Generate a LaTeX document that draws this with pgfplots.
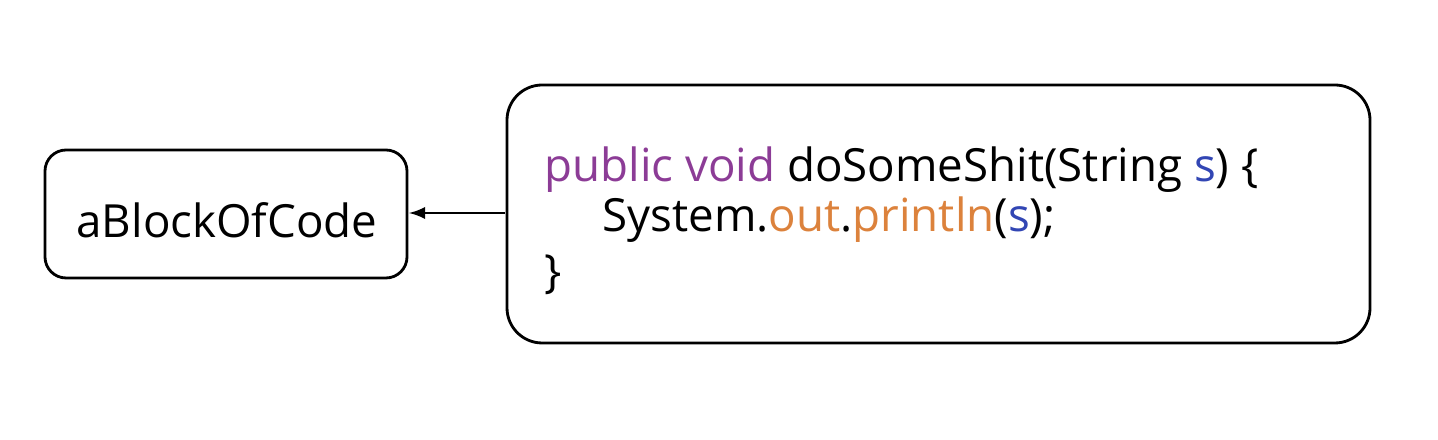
\documentclass[border=0pt]{standalone}
\usepackage{pgfplots}
\pgfplotsset{compat=1.18}
\usepackage{fontspec}
\setmainfont{Open Sans}
\definecolor{kw}{RGB}{140,60,150}
\definecolor{vr}{RGB}{50,70,180}
\definecolor{mt}{RGB}{220,130,60}
\begin{document}
\begin{tikzpicture}
\begin{axis}[width=14.38cm,height=4.4cm,scale only axis,axis lines=none,
  xmin=0,xmax=1438,ymin=0,ymax=440,clip=false,ticks=none]
\addplot[draw=none] coordinates {(0,0)(1438,440)};
% left box
\addplot[black,line width=0.8pt,rounded corners=6pt] coordinates {(200,162)(407,162)(407,290)(45,290)(45,162)(200,162)};
% right box
\addplot[black,line width=0.8pt,rounded corners=10pt] coordinates {(900,97)(1370,97)(1370,355)(507,355)(507,97)(900,97)};
% arrow
\addplot[black,line width=0.6pt,-latex] coordinates {(505,227)(409,227)};
\node[anchor=center,font=\fontsize{13}{15}\selectfont] at (axis cs:227,220) {aBlockOfCode};
\node[anchor=west,font=\fontsize{13}{15}\selectfont] at (axis cs:532,270) {\textcolor{kw}{public void} doSomeShit(String \textcolor{vr}{s}) \{};
\node[anchor=west,font=\fontsize{13}{15}\selectfont] at (axis cs:590,220) {System.\textcolor{mt}{out}.\textcolor{mt}{println}(\textcolor{vr}{s});};
\node[anchor=west,font=\fontsize{13}{15}\selectfont] at (axis cs:532,165) {\}};
\end{axis}
\end{tikzpicture}
\end{document}
